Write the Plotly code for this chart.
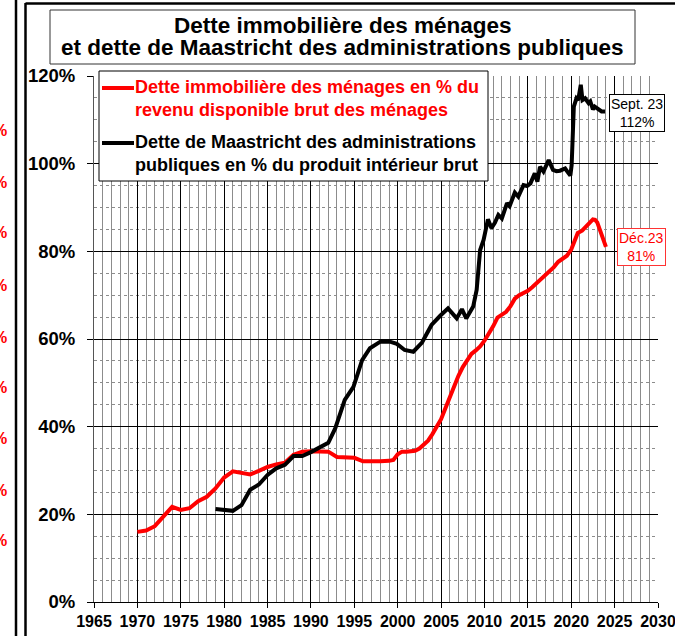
import plotly.graph_objects as go

# Data
red_x = [1970, 1971, 1972, 1973, 1974, 1975, 1976, 1977, 1978, 1979, 1980, 1981, 1982, 1983, 1984,
         1985, 1986, 1987, 1988, 1989, 1990, 1991, 1992, 1993, 1994, 1995, 1996, 1997, 1998, 1999,
         1999.5, 2000, 2000.5, 2001, 2001.5, 2002, 2002.5, 2003, 2003.5, 2004, 2004.5, 2005, 2005.5,
         2006, 2006.5, 2007, 2007.5, 2008, 2008.5, 2009, 2009.5, 2010, 2010.5, 2011, 2011.5, 2012,
         2012.5, 2013, 2013.5, 2014, 2014.5, 2015, 2015.5, 2016, 2016.5, 2017, 2017.5, 2018, 2018.5,
         2019, 2019.5, 2020, 2020.25, 2020.75, 2021.25, 2021.5, 2022, 2022.5, 2022.75, 2023, 2023.5, 2024]
red_y = [16.0, 16.3, 17.3, 19.5, 21.7, 21.0, 21.4, 23.0, 24.0, 25.9, 28.4, 29.8, 29.4, 29.1, 29.9,
         30.8, 31.4, 31.8, 33.6, 34.3, 34.4, 34.3, 34.3, 33.1, 32.9, 32.9, 32.1, 32.0, 32.1, 32.2,
         32.4, 33.7, 34.3, 34.3, 34.4, 34.5, 35.0, 35.8, 36.8, 38.3, 40.0, 41.7, 44.2,
         46.8, 49.6, 51.6, 53.6, 55.0, 56.6, 57.4, 58.3, 59.6, 61.2, 62.9, 64.9, 65.6,
         66.2, 67.5, 69.2, 70.0, 70.5, 71.0, 71.8, 72.7, 73.5, 74.5, 75.5, 76.4, 77.6,
         78.3, 79.0, 80.4, 81.8, 84.2, 84.7, 85.2, 86.3, 87.3, 87.2, 86.6, 83.8, 81.0]

black_x = [1979, 1980, 1981, 1982, 1983, 1984, 1985, 1986, 1987, 1988, 1989, 1990, 1991, 1992,
           1992.8, 1993.4, 1993.9, 1994.9, 1995.9, 1996.8, 1998, 1999.1, 1999.9, 2000.8, 2001.8,
           2002.8, 2003.9, 2004.9, 2005.8, 2006.8, 2007.4, 2007.9, 2008.7, 2009.1, 2009.5, 2009.9,
           2010.4, 2010.8, 2011.2, 2011.6, 2012.0, 2012.6, 2012.9, 2013.5, 2013.9, 2014.5, 2014.9,
           2015.3, 2015.8, 2016.1, 2016.4, 2016.8, 2017.4, 2017.9, 2018.3, 2018.7, 2019.3, 2019.7,
           2019.9, 2020.05, 2020.3, 2020.6, 2020.8, 2021.1, 2021.3, 2021.6, 2022.0, 2022.2, 2022.5,
           2022.7, 2023.1, 2023.5, 2023.9]
black_y = [21.2, 21.0, 20.8, 22.1, 25.6, 26.8, 29.0, 30.5, 31.3, 33.3, 33.3, 34.2, 35.3, 36.3,
           39.6, 43.5, 46.1, 49.1, 55.2, 57.9, 59.4, 59.4, 58.9, 57.5, 57.1,
           59.2, 63.2, 65.3, 67.0, 64.7, 66.8, 64.7, 67.4, 71.2, 80.3, 82.6,
           87.3, 85.3, 86.5, 88.3, 87.5, 91.0, 90.3, 93.4, 92.5, 95.1, 94.9,
           95.5, 97.8, 95.9, 99.3, 98.2, 100.8, 98.6, 98.3, 98.4, 98.9, 97.8,
           97.3, 99.7, 113.0, 114.9, 114.5, 118.0, 114.5, 114.9, 113.8, 114.2, 112.4,
           113.0, 112.3, 111.9, 111.9]

x_ticks = list(range(1965, 2031, 5))
y_ticks = [0, 20, 40, 60, 80, 100, 120]

title_lines = ["Dette immobilière des ménages", "et dette de Maastricht des administrations publiques"]
legend_red = "Dette immobilière des ménages en % du<br>revenu disponible brut des ménages"
legend_black = "Dette de Maastricht des administrations<br>publiques en % du produit intérieur brut"

W, H = 675, 636
ML, MR, MT, MB = 94, 17, 76, 34
PW, PH = W - ML - MR, H - MT - MB


def px(x):
    return (x - ML) / PW


def py(y):
    return 1 - (y - MT) / PH


FONT = "Liberation Sans, Arial, sans-serif"

fig = go.Figure()
fig.add_trace(go.Scatter(x=red_x, y=red_y, mode="lines", line=dict(color="#ff0000", width=4),
                         showlegend=False, hoverinfo="skip"))
fig.add_trace(go.Scatter(x=black_x, y=black_y, mode="lines", line=dict(color="#000000", width=4),
                         showlegend=False, hoverinfo="skip"))

shapes = []
annotations = []

# outer frame lines (neighbouring panel edges)
shapes.append(dict(type="line", xref="paper", yref="paper", x0=px(16), x1=px(16), y0=py(0), y1=py(H),
                   line=dict(color="black", width=2.5)))
shapes.append(dict(type="line", xref="paper", yref="paper", x0=px(25.5), x1=px(25.5), y0=py(3), y1=py(H),
                   line=dict(color="black", width=2.5)))
shapes.append(dict(type="line", xref="paper", yref="paper", x0=px(25.5), x1=px(W), y0=py(3.5), y1=py(3.5),
                   line=dict(color="black", width=2.5)))

# title box
shapes.append(dict(type="rect", xref="paper", yref="paper", x0=px(50), x1=px(635), y0=py(10), y1=py(64),
                   line=dict(color="#333333", width=1), fillcolor="white"))
annotations.append(dict(xref="paper", yref="paper", x=px(342.5), y=py(25), text=title_lines[0],
                        showarrow=False, xanchor="center", yanchor="middle",
                        font=dict(family=FONT, size=22.5, color="black", weight="bold")))
annotations.append(dict(xref="paper", yref="paper", x=px(342.5), y=py(47.5), text=title_lines[1],
                        showarrow=False, xanchor="center", yanchor="middle",
                        font=dict(family=FONT, size=22.5, color="black", weight="bold")))

# legend box
shapes.append(dict(type="rect", xref="paper", yref="paper", x0=px(99), x1=px(488), y0=py(71), y1=py(181),
                   line=dict(color="black", width=1), fillcolor="white", layer="above"))
shapes.append(dict(type="line", xref="paper", yref="paper", x0=px(102), x1=px(134), y0=py(88), y1=py(88),
                   line=dict(color="#ff0000", width=4), layer="above"))
shapes.append(dict(type="line", xref="paper", yref="paper", x0=px(102), x1=px(134), y0=py(143), y1=py(143),
                   line=dict(color="black", width=4), layer="above"))
annotations.append(dict(xref="paper", yref="paper", x=px(133), y=py(98), text=legend_red,
                        showarrow=False, xanchor="left", yanchor="middle", align="left",
                        font=dict(family=FONT, size=18, color="#ff0000", weight="bold")))
annotations.append(dict(xref="paper", yref="paper", x=px(133), y=py(153), text=legend_black,
                        showarrow=False, xanchor="left", yanchor="middle", align="left",
                        font=dict(family=FONT, size=18, color="black", weight="bold")))

# end labels
annotations.append(dict(xref="paper", yref="paper", x=px(637), y=py(113), text="Sept. 23<br>112%",
                        showarrow=False, xanchor="center", yanchor="middle", align="center",
                        bgcolor="white", bordercolor="black", borderwidth=1, borderpad=1,
                        font=dict(family=FONT, size=14, color="black")))
annotations.append(dict(xref="paper", yref="paper", x=px(641.5), y=py(247), text="Déc.23<br>81%",
                        showarrow=False, xanchor="center", yanchor="middle", align="center",
                        bgcolor="white", bordercolor="#ff3333", borderwidth=1, borderpad=1,
                        font=dict(family=FONT, size=14, color="#ff0000")))

# partially visible right-axis labels of the neighbouring chart
for yy in [130, 182, 233, 285, 337, 387, 438, 490, 540]:
    annotations.append(dict(xref="paper", yref="paper", x=px(9), y=py(yy), text="%",
                            showarrow=False, xanchor="right", yanchor="middle",
                            font=dict(family=FONT, size=16, color="#ff0000", weight="bold")))

fig.update_layout(
    width=W, height=H,
    margin=dict(l=ML, r=MR, t=MT, b=MB, pad=0, autoexpand=False),
    paper_bgcolor="white", plot_bgcolor="white",
    showlegend=False,
    shapes=shapes, annotations=annotations,
    xaxis=dict(range=[1965, 2030], tickvals=x_ticks, ticktext=[str(v) for v in x_ticks],
               showgrid=True, gridcolor="black", gridwidth=1,
               minor=dict(dtick=1, tick0=1965, showgrid=True, gridcolor="#8c8c8c", gridwidth=1, ticks=""),
               ticks="outside", ticklen=5, tickcolor="black", tickwidth=1,
               showline=True, linecolor="black", linewidth=1, mirror=False, zeroline=False,
               automargin=False, ticklabeloverflow="allow",
               tickfont=dict(family=FONT, size=16, color="black", weight="bold"), fixedrange=True),
    yaxis=dict(range=[0, 120], tickvals=y_ticks, ticktext=[f"{v}%" for v in y_ticks],
               showgrid=True, gridcolor="black", gridwidth=1,
               minor=dict(dtick=5, tick0=0, showgrid=True, gridcolor="#8c8c8c", gridwidth=1, griddash="dot", ticks=""),
               ticks="outside", ticklen=6, tickcolor="black", tickwidth=1,
               showline=True, linecolor="#555555", linewidth=1, zeroline=False,
               ticklabelstandoff=8, automargin=False, ticklabeloverflow="allow",
               tickfont=dict(family=FONT, size=18.5, color="black", weight="bold"), fixedrange=True),
)

fig.write_html("out.html", config={"displayModeBar": False, "staticPlot": True},
               post_script="document.body.style.margin='0';document.body.style.overflow='hidden';")
